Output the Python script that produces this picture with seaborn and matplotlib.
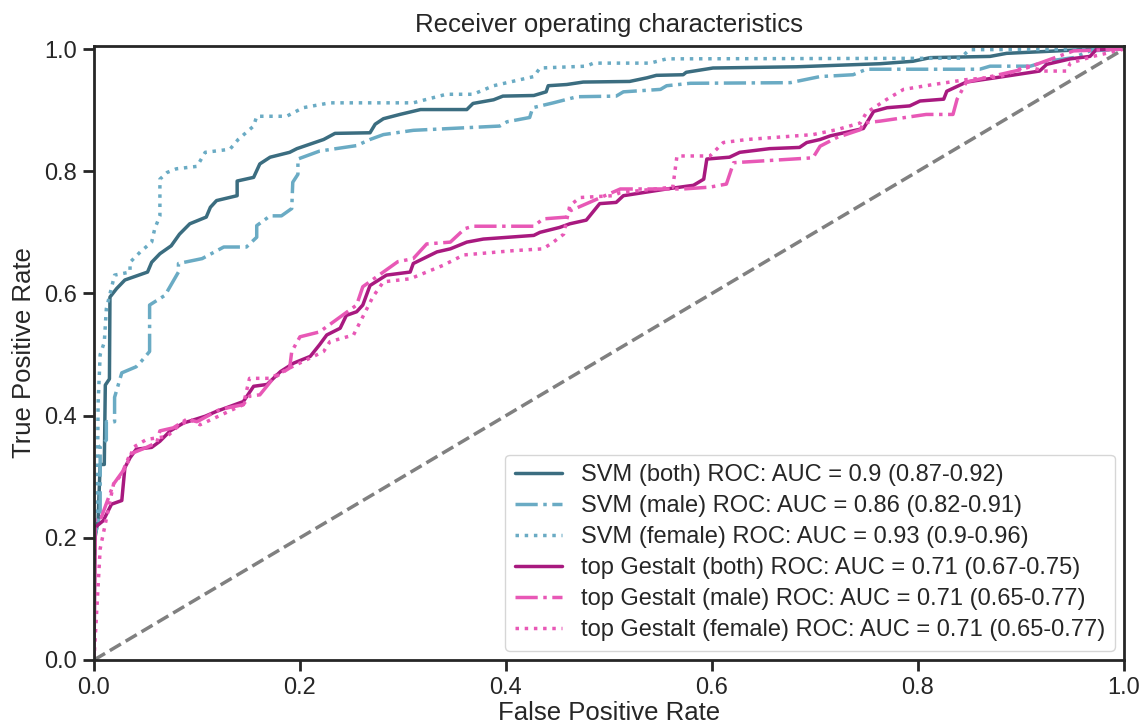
import numpy as np
import pandas as pd
import matplotlib
matplotlib.use("Agg")
import matplotlib.pyplot as plt
import seaborn as sns

# ---- data ----
svm_both_fpr = [0, 0, 0.004, 0.006, 0.010, 0.011, 0.015, 0.0155, 0.022, 0.030, 0.052, 0.056, 0.064, 0.075, 0.083, 0.093,
                0.109, 0.113, 0.119, 0.139, 0.139, 0.155, 0.161, 0.171, 0.190, 0.197, 0.223, 0.234, 0.268, 0.273, 0.281,
                0.297, 0.317, 0.362, 0.368, 0.388, 0.397, 0.427, 0.439, 0.441, 0.459, 0.475, 0.520, 0.537, 0.546, 0.572,
                0.575, 0.601, 0.682, 0.763, 0.795, 0.812, 0.870, 0.886, 0.935, 0.970, 1.0]
svm_both_tpr = [0, 0.19, 0.23, 0.32, 0.32, 0.45, 0.46, 0.594, 0.608, 0.622, 0.635, 0.651, 0.665, 0.678, 0.697, 0.714,
                0.725, 0.741, 0.752, 0.760, 0.784, 0.790, 0.812, 0.823, 0.831, 0.837, 0.852, 0.862, 0.863, 0.877, 0.886,
                0.893, 0.901, 0.901, 0.911, 0.917, 0.923, 0.924, 0.930, 0.940, 0.942, 0.946, 0.947, 0.953, 0.957, 0.958,
                0.962, 0.969, 0.971, 0.976, 0.980, 0.986, 0.988, 0.993, 0.997, 1.0, 1.0]

svm_male_fpr = [0, 0, 0.006, 0.006, 0.012, 0.012, 0.020, 0.020, 0.027, 0.041, 0.046, 0.054, 0.054, 0.069, 0.082, 0.082,
                0.105, 0.126, 0.148, 0.158, 0.158, 0.171, 0.182, 0.192, 0.193, 0.198, 0.198, 0.219, 0.255, 0.268, 0.281,
                0.310, 0.394, 0.401, 0.423, 0.426, 0.446, 0.469, 0.507, 0.514, 0.550, 0.556, 0.579, 0.676, 0.705, 0.737,
                0.750, 0.860, 0.870, 0.909, 0.925, 0.951, 0.967, 1.0]
svm_male_tpr = [0, 0.20, 0.24, 0.35, 0.36, 0.39, 0.39, 0.43, 0.47, 0.48, 0.489, 0.505, 0.581, 0.597, 0.635, 0.649,
                0.657, 0.676, 0.676, 0.692, 0.711, 0.727, 0.727, 0.739, 0.782, 0.795, 0.820, 0.833, 0.842, 0.852, 0.860,
                0.867, 0.874, 0.881, 0.888, 0.904, 0.912, 0.922, 0.923, 0.930, 0.934, 0.940, 0.944, 0.945, 0.955, 0.958,
                0.967, 0.967, 0.972, 0.972, 0.980, 0.986, 0.997, 1.0]

svm_female_fpr = [0, 0, 0.003, 0.004, 0.006, 0.010, 0.012, 0.020, 0.035, 0.035, 0.045, 0.056, 0.059, 0.064, 0.064, 0.071,
                  0.080, 0.100, 0.108, 0.132, 0.140, 0.155, 0.158, 0.187, 0.203, 0.229, 0.310, 0.342, 0.368, 0.388, 0.427,
                  0.433, 0.478, 0.485, 0.540, 0.556, 0.841, 0.850, 1.0]
svm_female_tpr = [0, 0.19, 0.22, 0.42, 0.50, 0.52, 0.575, 0.630, 0.635, 0.651, 0.668, 0.684, 0.706, 0.727, 0.787, 0.798,
                  0.804, 0.808, 0.831, 0.836, 0.852, 0.874, 0.890, 0.890, 0.904, 0.912, 0.912, 0.926, 0.926, 0.940, 0.955,
                  0.969, 0.972, 0.977, 0.977, 0.984, 0.985, 0.999, 1.0]

gest_both_fpr = [0, 0.001, 0.001, 0.009, 0.017, 0.027, 0.030, 0.035, 0.041, 0.056, 0.064, 0.074, 0.087, 0.093, 0.108,
                 0.119, 0.145, 0.155, 0.168, 0.181, 0.194, 0.210, 0.219, 0.226, 0.239, 0.245, 0.255, 0.261, 0.268, 0.284,
                 0.307, 0.310, 0.333, 0.346, 0.362, 0.378, 0.427, 0.433, 0.452, 0.462, 0.478, 0.491, 0.507, 0.514, 0.556,
                 0.582, 0.592, 0.595, 0.617, 0.627, 0.656, 0.685, 0.692, 0.705, 0.715, 0.747, 0.757, 0.770, 0.792, 0.802,
                 0.825, 0.828, 0.847, 0.883, 0.918, 0.925, 0.948, 0.967, 0.973, 1.0]
gest_both_tpr = [0, 0.185, 0.217, 0.228, 0.255, 0.261, 0.315, 0.331, 0.345, 0.348, 0.358, 0.375, 0.388, 0.391, 0.399,
                 0.407, 0.423, 0.448, 0.451, 0.472, 0.486, 0.497, 0.516, 0.532, 0.543, 0.564, 0.570, 0.581, 0.613, 0.630,
                 0.635, 0.649, 0.668, 0.673, 0.684, 0.689, 0.695, 0.700, 0.708, 0.714, 0.720, 0.747, 0.749, 0.760, 0.771,
                 0.777, 0.787, 0.820, 0.823, 0.831, 0.837, 0.839, 0.847, 0.852, 0.858, 0.870, 0.898, 0.904, 0.907, 0.915,
                 0.918, 0.931, 0.946, 0.955, 0.964, 0.975, 0.984, 0.988, 0.999, 1.0]

gest_male_fpr = [0, 0.001, 0.007, 0.019, 0.028, 0.035, 0.051, 0.061, 0.064, 0.077, 0.090, 0.100, 0.122, 0.145, 0.151,
                 0.161, 0.174, 0.190, 0.192, 0.200, 0.219, 0.255, 0.261, 0.295, 0.310, 0.323, 0.346, 0.360, 0.368, 0.427,
                 0.436, 0.459, 0.462, 0.511, 0.572, 0.598, 0.614, 0.621, 0.698, 0.705, 0.721, 0.744, 0.747, 0.763, 0.808,
                 0.834, 0.838, 0.847, 0.902, 0.951, 1.0]
gest_male_tpr = [0, 0.233, 0.233, 0.288, 0.309, 0.337, 0.348, 0.356, 0.375, 0.380, 0.394, 0.39, 0.410, 0.418, 0.432,
                 0.434, 0.461, 0.478, 0.505, 0.529, 0.537, 0.581, 0.611, 0.652, 0.657, 0.681, 0.684, 0.706, 0.710, 0.710,
                 0.722, 0.725, 0.735, 0.771, 0.771, 0.774, 0.779, 0.814, 0.822, 0.841, 0.855, 0.868, 0.879, 0.882, 0.893,
                 0.893, 0.918, 0.946, 0.967, 0.997, 1.0]

gest_female_fpr = [0, 0.006, 0.012, 0.019, 0.027, 0.035, 0.038, 0.051, 0.071, 0.080, 0.093, 0.103, 0.145, 0.151, 0.171,
                   0.190, 0.223, 0.229, 0.252, 0.271, 0.281, 0.307, 0.323, 0.339, 0.359, 0.407, 0.436, 0.446, 0.456, 0.462,
                   0.472, 0.504, 0.511, 0.562, 0.566, 0.598, 0.611, 0.634, 0.698, 0.721, 0.744, 0.750, 0.770, 0.786, 0.815,
                   0.847, 0.880, 0.906, 0.922, 0.944, 0.948, 0.970, 0.993, 1.0]
gest_female_tpr = [0, 0.182, 0.231, 0.288, 0.304, 0.331, 0.348, 0.361, 0.366, 0.380, 0.394, 0.385, 0.418, 0.461, 0.461,
                   0.478, 0.505, 0.521, 0.532, 0.595, 0.619, 0.624, 0.635, 0.646, 0.663, 0.670, 0.673, 0.684, 0.697, 0.744,
                   0.757, 0.760, 0.765, 0.774, 0.825, 0.825, 0.847, 0.852, 0.860, 0.868, 0.879, 0.896, 0.918, 0.934, 0.942,
                   0.950, 0.955, 0.972, 0.964, 0.964, 0.977, 0.988, 0.997, 1.0]

labels = [
    "SVM (both) ROC: AUC = 0.9 (0.87-0.92)",
    "SVM (male) ROC: AUC = 0.86 (0.82-0.91)",
    "SVM (female) ROC: AUC = 0.93 (0.9-0.96)",
    "top Gestalt (both) ROC: AUC = 0.71 (0.67-0.75)",
    "top Gestalt (male) ROC: AUC = 0.71 (0.65-0.77)",
    "top Gestalt (female) ROC: AUC = 0.71 (0.65-0.77)",
]
chance = [0.0, 1.0]

series = [
    (svm_both_fpr, svm_both_tpr, "#3b6d80", "-"),
    (svm_male_fpr, svm_male_tpr, "#6aabc4", "-."),
    (svm_female_fpr, svm_female_tpr, "#6aabc4", ":"),
    (gest_both_fpr, gest_both_tpr, "#a8197f", "-"),
    (gest_male_fpr, gest_male_tpr, "#e858b6", "-."),
    (gest_female_fpr, gest_female_tpr, "#e858b6", ":"),
]

sns.set_theme(style="ticks")
plt.rcParams['font.family'] = ['Liberation Sans', 'DejaVu Sans']
plt.rcParams['axes.edgecolor'] = '#262626'
plt.rcParams['text.color'] = '#262626'

fig = plt.figure(figsize=(11.42, 7.27), dpi=100)
ax = fig.add_axes([0.0823, 0.0922, 0.9019, 0.8445])

for (fx, ty, col, ls), lab in zip(series, labels):
    df = pd.DataFrame({"fpr": fx, "tpr": ty})
    sns.lineplot(data=df, x="fpr", y="tpr", ax=ax, color=col, linestyle=ls, linewidth=2.5,
                 estimator=None, sort=False, label=lab)

sns.lineplot(x=chance, y=chance, ax=ax, color="gray", linestyle="--", linewidth=2.5,
             estimator=None, sort=False)

ax.set_xlim(0, 1)
ax.set_ylim(0, 1.005)
ax.set_xticks([0, 0.2, 0.4, 0.6, 0.8, 1.0])
ax.set_yticks([0, 0.2, 0.4, 0.6, 0.8, 1.0])
ax.set_xticklabels(["0.0", "0.2", "0.4", "0.6", "0.8", "1.0"])
ax.set_yticklabels(["0.0", "0.2", "0.4", "0.6", "0.8", "1.0"])
ax.tick_params(labelsize=17, width=2, length=8, pad=4, color='#262626', labelcolor='#262626')
for s in ax.spines.values():
    s.set_linewidth(2)
ax.set_xlabel("False Positive Rate", fontsize=18.5, labelpad=2)
ax.set_ylabel("True Positive Rate", fontsize=18.5, labelpad=6)
ax.set_title("Receiver operating characteristics", fontsize=18.5, pad=10)
leg = ax.legend(loc="lower right", fontsize=17, frameon=True, handlelength=2.0,
                labelspacing=0.38, borderaxespad=0.4)
leg.get_frame().set_edgecolor('#cccccc')

fig.savefig("out.png", dpi=100)
